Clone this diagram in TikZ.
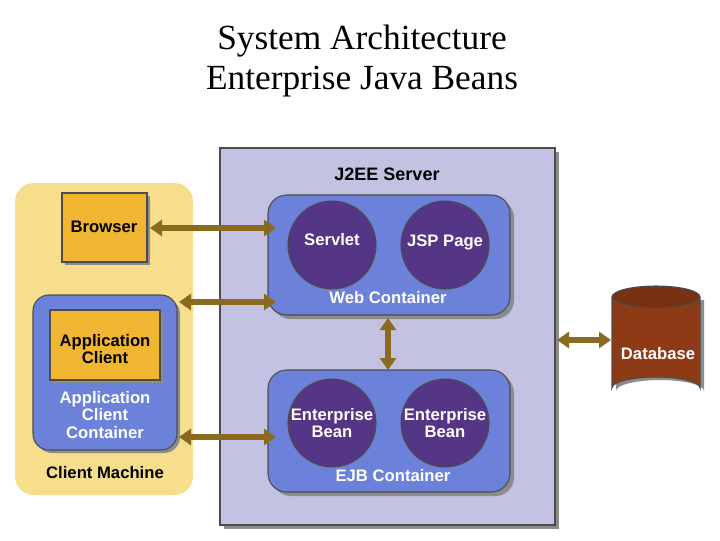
\documentclass[tikz,border=0pt]{standalone}
\usepackage{fontspec}
\setmainfont{Liberation Serif}
\newfontfamily\sansb{Liberation Sans}
\usetikzlibrary{arrows.meta,shapes.geometric}
\definecolor{clientY}{HTML}{F6DE8C}
\definecolor{srv}{HTML}{C4C2E2}
\definecolor{cont}{HTML}{6C82DA}
\definecolor{orng}{HTML}{F0B531}
\definecolor{purp}{HTML}{553585}
\definecolor{brn}{HTML}{8E3A17}
\definecolor{arr}{HTML}{8A6A1E}
\begin{document}
\begin{tikzpicture}[x=0.75pt,y=-0.75pt,
  lbl/.style={font=\sansb\bfseries\fontsize{12.5}{13}\selectfont,align=center},
  wlbl/.style={lbl,text=white},
  box/.style={draw=black!70,line width=0.8pt},
  shadow/.style={fill=black!45},
  bean/.style={circle,fill=purp,draw=black!70,line width=0.8pt,minimum size=66pt,inner sep=0pt},
  dbl/.style={{Triangle[length=9pt,width=12pt]}-{Triangle[length=9pt,width=12pt]},draw=arr,line width=4pt}]
\useasboundingbox (0,0) rectangle (720,540);
\node (t1) at (362,41) {\fontsize{26.5}{28}\selectfont System Architecture};
\node (t2) at (362,82) {\fontsize{26.5}{28}\selectfont Enterprise Java Beans};
% client machine
\fill[clientY,rounded corners=14] (15,183) rectangle (193,495);
\node[lbl] (cm) at (105,473) {Client Machine};
% server
\fill[shadow] (224,152) rectangle (559,529);
\draw[box,fill=srv] (220,148) rectangle (555,525);
\node[lbl,font=\sansb\bfseries\fontsize{13.5}{15}\selectfont] (srvl) at (387,174) {J2EE Server};
% browser
\fill[shadow] (65,196) rectangle (150,265);
\draw[box,fill=orng] (62,193) rectangle (147,262);
\node[lbl] (br) at (104,227) {Browser};
% app client container
\fill[shadow,rounded corners=12] (36,298) rectangle (180,453);
\draw[box,fill=cont,rounded corners=12] (33,295) rectangle (177,450);
\fill[shadow] (53,313) rectangle (163,383);
\draw[box,fill=orng] (50,310) rectangle (160,380);
\node[lbl] (ac) at (105,349) {Application\\Client};
\node[wlbl] (acc) at (105,415) {Application\\Client\\Container};
% web container
\fill[shadow,rounded corners=14] (272,199) rectangle (514,319);
\draw[box,fill=cont,rounded corners=14] (268,195) rectangle (510,315);
\node[bean] (sv) at (332,245) {};
\node[wlbl] at (332,240) {Servlet};
\node[bean] (jsp) at (445,245) {};
\node[wlbl] at (445,242) {JSP Page};
\node[wlbl] (wc) at (388,298) {Web Container};
% EJB container
\fill[shadow,rounded corners=14] (272,374) rectangle (514,496);
\draw[box,fill=cont,rounded corners=14] (268,370) rectangle (510,492);
\node[bean] (eb1) at (332,423) {};
\node[wlbl] at (332,423) {Enterprise\\Bean};
\node[bean] (eb2) at (445,423) {};
\node[wlbl] at (445,423) {Enterprise\\Bean};
\node[wlbl] (ec) at (393,476) {EJB Container};
% database
\fill[shadow] (616,300) -- (616,391) arc[start angle=180,end angle=360,x radius=44,y radius=11] -- (704,300) -- cycle;
\draw[box,fill=brn] (612,297) -- (612,388) arc[start angle=180,end angle=360,x radius=44,y radius=11] -- (700,297);
\draw[box,fill=brn!85!black] (656,297) ellipse[x radius=44,y radius=11];
\node[wlbl] (db) at (658,354) {Database};
% arrows
\coordinate (a1) at (150,228); \coordinate (b1) at (276,228);
\coordinate (a2) at (179,302); \coordinate (b2) at (276,302);
\coordinate (a3) at (179,437); \coordinate (b3) at (276,437);
\coordinate (a4) at (388,318); \coordinate (b4) at (388,370);
\coordinate (a5) at (557,340); \coordinate (b5) at (611,340);
\draw[dbl] (a1) -- (b1);
\draw[dbl] (a2) -- (b2);
\draw[dbl] (a3) -- (b3);
\draw[dbl] (a4) -- (b4);
\draw[dbl] (a5) -- (b5);
\end{tikzpicture}
\end{document}
